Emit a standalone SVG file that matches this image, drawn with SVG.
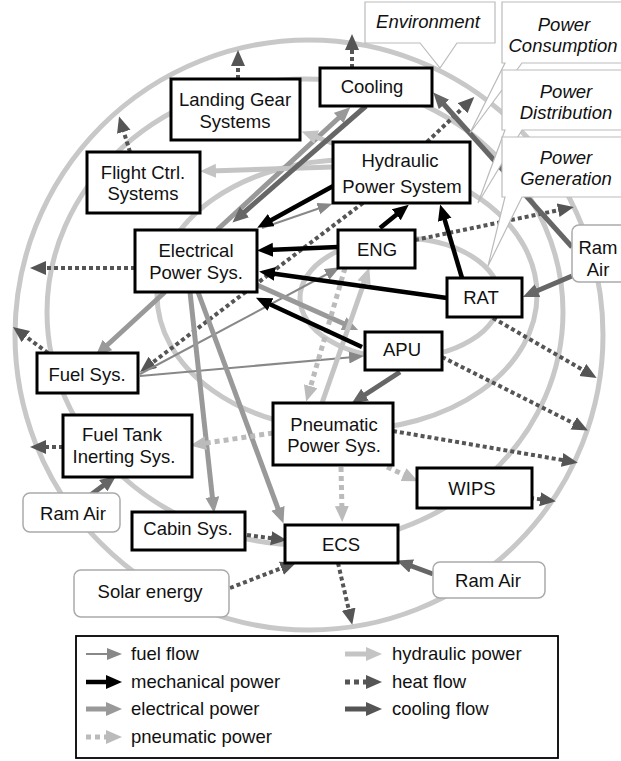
<svg xmlns="http://www.w3.org/2000/svg" width="621" height="761" viewBox="0 0 621 761">
<style>
text{font-family:"Liberation Sans",Arial,sans-serif;font-size:18.5px;fill:#111;text-anchor:middle}
.it{font-style:italic}
.lg{text-anchor:start;font-size:18.5px}
.ring{fill:none;stroke:#c8c8c8;stroke-width:5}
.node{fill:#fff;stroke:#000;stroke-width:3}
.src{fill:#fff;stroke:#aaa;stroke-width:1.5}
.call{fill:#fff;stroke:#bbb;stroke-width:1.2}
.fuel{stroke:#888;stroke-width:2;fill:none;marker-end:url(#aFuel)}
.mech{stroke:#000;stroke-width:4.5;fill:none;marker-end:url(#aMech)}
.elec{stroke:#999;stroke-width:5;fill:none;marker-end:url(#aElec)}
.pneu{stroke:#bbb;stroke-width:5;stroke-dasharray:5 4;fill:none;marker-end:url(#aPneu)}
.hyd{stroke:#c4c4c4;stroke-width:5;fill:none;marker-end:url(#aHyd)}
.heat{stroke:#555;stroke-width:4;stroke-dasharray:4 3;fill:none;marker-end:url(#aHeat)}
.cool{stroke:#666;stroke-width:5;fill:none;marker-end:url(#aCool)}
</style>
<defs>
<marker id="aFuel" markerUnits="userSpaceOnUse" markerWidth="16" markerHeight="14" refX="5" refY="6" orient="auto"><path d="M0,0 L15,6 L0,12 z" fill="#888"/></marker>
<marker id="aMech" markerUnits="userSpaceOnUse" markerWidth="18" markerHeight="16" refX="6" refY="7" orient="auto"><path d="M0,0 L16,7 L0,14 z" fill="#000"/></marker>
<marker id="aElec" markerUnits="userSpaceOnUse" markerWidth="18" markerHeight="16" refX="6" refY="7" orient="auto"><path d="M0,0 L16,7 L0,14 z" fill="#999"/></marker>
<marker id="aPneu" markerUnits="userSpaceOnUse" markerWidth="18" markerHeight="16" refX="6" refY="7" orient="auto"><path d="M0,0 L16,7 L0,14 z" fill="#bbb"/></marker>
<marker id="aHyd" markerUnits="userSpaceOnUse" markerWidth="18" markerHeight="16" refX="6" refY="7" orient="auto"><path d="M0,0 L16,7 L0,14 z" fill="#c4c4c4"/></marker>
<marker id="aHeat" markerUnits="userSpaceOnUse" markerWidth="18" markerHeight="16" refX="6" refY="7" orient="auto"><path d="M0,0 L16,7 L0,14 z" fill="#555"/></marker>
<marker id="aCool" markerUnits="userSpaceOnUse" markerWidth="18" markerHeight="16" refX="6" refY="7" orient="auto"><path d="M0,0 L16,7 L0,14 z" fill="#666"/></marker>
</defs>
<rect width="621" height="761" fill="#fff"/>
<g id="rings">
<ellipse class="ring" cx="309" cy="335" rx="294" ry="295"/>
<ellipse class="ring" cx="305" cy="312" rx="258" ry="233"/>
<ellipse class="ring" cx="347" cy="295" rx="190" ry="135"/>
<ellipse class="ring" cx="400" cy="298" rx="100" ry="60"/>
</g>
<g id="connectors">
<line class="heat" x1="238" y1="79" x2="238" y2="60"/>
<line class="heat" x1="130" y1="152" x2="122" y2="126"/>
<line class="heat" x1="352" y1="68" x2="352" y2="44"/>
<line class="heat" x1="135" y1="268" x2="40" y2="268"/>
<line class="heat" x1="48" y1="353" x2="21" y2="333"/>
<line class="heat" x1="63" y1="447" x2="40" y2="447"/>
<line class="heat" x1="363" y1="203" x2="148" y2="366"/>
<line class="heat" x1="427" y1="142" x2="467" y2="104"/>
<line class="heat" x1="415" y1="240" x2="564" y2="209"/>
<line class="heat" x1="493" y1="318" x2="588" y2="373"/>
<line class="heat" x1="442" y1="357" x2="579" y2="426"/>
<line class="heat" x1="393" y1="431" x2="568" y2="461"/>
<line class="heat" x1="530" y1="498" x2="546" y2="500"/>
<line class="heat" x1="338" y1="563" x2="350" y2="615"/>
<line class="heat" x1="247" y1="535" x2="277" y2="539"/>
<line class="heat" x1="230" y1="588" x2="287" y2="566"/>
<line class="fuel" x1="140" y1="374" x2="331" y2="272"/>
<line class="fuel" x1="140" y1="376" x2="354" y2="357"/>
<line class="fuel" x1="262" y1="228" x2="323" y2="207"/>
<line class="elec" x1="217" y1="230" x2="343" y2="114"/>
<line class="elec" x1="165" y1="292" x2="103" y2="349"/>
<line class="elec" x1="190" y1="292" x2="213" y2="503"/>
<line class="elec" x1="198" y1="292" x2="280" y2="514"/>
<line class="elec" x1="257" y1="285" x2="349" y2="326"/>
<line class="hyd" x1="333" y1="167" x2="210" y2="171"/>
<line class="hyd" x1="337" y1="145" x2="311" y2="135"/>
<line class="hyd" x1="322" y1="403" x2="366" y2="277"/>
<line class="pneu" x1="345" y1="268" x2="309" y2="392"/>
<line class="pneu" x1="273" y1="433" x2="200" y2="444"/>
<line class="pneu" x1="341" y1="467" x2="342" y2="512"/>
<line class="pneu" x1="387" y1="467" x2="409" y2="477"/>
<line class="cool" x1="366" y1="106" x2="240" y2="216"/>
<line class="cool" x1="572" y1="276" x2="532" y2="293"/>
<line class="cool" x1="572" y1="247" x2="440" y2="100"/>
<line class="cool" x1="88" y1="497" x2="108" y2="482"/>
<line class="cool" x1="433" y1="574" x2="406" y2="564"/>
<line class="cool" x1="400" y1="372" x2="360" y2="398"/>
<line class="mech" x1="335" y1="185" x2="266" y2="223"/>
<line class="mech" x1="338" y1="247" x2="267" y2="250"/>
<line class="mech" x1="447" y1="298" x2="269" y2="273"/>
<line class="mech" x1="362" y1="347" x2="265" y2="302"/>
<line class="mech" x1="380" y1="228" x2="401" y2="211"/>
<line class="mech" x1="462" y1="278" x2="443" y2="214"/>
</g>
<g id="callouts">
<g id="environment"><path class="call" d="M365,2 H495 V43 H457 L440,68 L420,43 H365 Z"/><text class="it" x="428" y="28">Environment</text></g>
<g id="power-consumption"><path class="call" d="M502,2 H625 V63 H522 L470,133 L505,63 H502 Z"/><text class="it" x="564" y="31">Power</text><text class="it" x="563" y="52">Consumption</text></g>
<g id="power-distribution"><path class="call" d="M502,70 H625 V130 H522 L478,203 L505,130 H502 Z"/><text class="it" x="566" y="98">Power</text><text class="it" x="566" y="119">Distribution</text></g>
<g id="power-generation"><path class="call" d="M502,137 H625 V197 H522 L488,266 L505,197 H502 Z"/><text class="it" x="566" y="164">Power</text><text class="it" x="566" y="185">Generation</text></g>
</g>
<g id="landing-gear"><rect class="node" x="171" y="79" width="129" height="61"/><text x="235" y="106">Landing Gear</text><text x="235" y="128">Systems</text></g>
<g id="flight-ctrl"><rect class="node" x="87" y="152" width="113" height="61"/><text x="143" y="179">Flight Ctrl.</text><text x="143" y="200">Systems</text></g>
<g id="cooling"><rect class="node" x="320" y="68" width="112" height="38"/><text x="372" y="93">Cooling</text></g>
<g id="hydraulic"><rect class="node" x="333" y="142" width="137" height="61"/><text x="400" y="167">Hydraulic</text><text x="402" y="193">Power System</text></g>
<g id="electrical"><rect class="node" x="135" y="230" width="122" height="62"/><text x="196" y="257">Electrical</text><text x="196" y="279">Power Sys.</text></g>
<g id="eng"><rect class="node" x="338" y="230" width="77" height="38"/><text x="377" y="256">ENG</text></g>
<g id="rat"><rect class="node" x="447" y="278" width="75" height="39"/><text x="481" y="304">RAT</text></g>
<g id="apu"><rect class="node" x="365" y="332" width="77" height="38"/><text x="402" y="356">APU</text></g>
<g id="fuel-sys"><rect class="node" x="37" y="353" width="101" height="40"/><text x="87" y="381">Fuel Sys.</text></g>
<g id="fuel-tank"><rect class="node" x="63" y="415" width="129" height="62"/><text x="122" y="441">Fuel Tank</text><text x="124" y="463">Inerting Sys.</text></g>
<g id="pneumatic"><rect class="node" x="273" y="403" width="120" height="62"/><text x="334" y="431">Pneumatic</text><text x="334" y="452">Power Sys.</text></g>
<g id="wips"><rect class="node" x="417" y="468" width="115" height="40"/><text x="472" y="495">WIPS</text></g>
<g id="cabin"><rect class="node" x="132" y="512" width="113" height="38"/><text x="188" y="535">Cabin Sys.</text></g>
<g id="ecs"><rect class="node" x="285" y="525" width="113" height="38"/><text x="341" y="551">ECS</text></g>
<g id="ram-air-r"><rect class="src" x="572" y="225" width="60" height="57" rx="7"/><text x="598" y="254">Ram</text><text x="598" y="276">Air</text></g>
<g id="ram-air-l"><rect class="src" x="23" y="493" width="97" height="39" rx="7"/><text x="73" y="520">Ram Air</text></g>
<g id="solar"><rect class="src" x="74" y="570" width="155" height="47" rx="7"/><text x="150" y="598">Solar energy</text></g>
<g id="ram-air-br"><rect class="src" x="433" y="562" width="112" height="36" rx="7"/><text x="488" y="587">Ram Air</text></g>
<g id="legend">
<rect x="76" y="636" width="482" height="122" fill="#fff" stroke="#000" stroke-width="1.8"/>
<line x1="86" y1="654" x2="108" y2="654" stroke="#888" stroke-width="2"/><path d="M107,648 L122,654 L107,660 z" fill="#888"/>
<line x1="86" y1="682" x2="108" y2="682" stroke="#000" stroke-width="4.5"/><path d="M106,675 L122,682 L106,689 z" fill="#000"/>
<line x1="86" y1="709" x2="108" y2="709" stroke="#999" stroke-width="5"/><path d="M106,702 L122,709 L106,716 z" fill="#999"/>
<line x1="86" y1="737" x2="108" y2="737" stroke="#bbb" stroke-width="5" stroke-dasharray="5 4"/><path d="M106,730 L122,737 L106,744 z" fill="#bbb"/>
<line x1="345" y1="654" x2="367" y2="654" stroke="#c4c4c4" stroke-width="5"/><path d="M366,647 L382,654 L366,661 z" fill="#c4c4c4"/>
<line x1="345" y1="682" x2="367" y2="682" stroke="#555" stroke-width="5" stroke-dasharray="5 4"/><path d="M366,675 L382,682 L366,689 z" fill="#555"/>
<line x1="345" y1="709" x2="367" y2="709" stroke="#555" stroke-width="5"/><path d="M366,702 L382,709 L366,716 z" fill="#555"/>
<text class="lg" x="131" y="660">fuel flow</text>
<text class="lg" x="131" y="688">mechanical power</text>
<text class="lg" x="131" y="715">electrical power</text>
<text class="lg" x="131" y="743">pneumatic power</text>
<text class="lg" x="392" y="660">hydraulic power</text>
<text class="lg" x="392" y="688">heat flow</text>
<text class="lg" x="392" y="715">cooling flow</text>
</g>
</svg>
